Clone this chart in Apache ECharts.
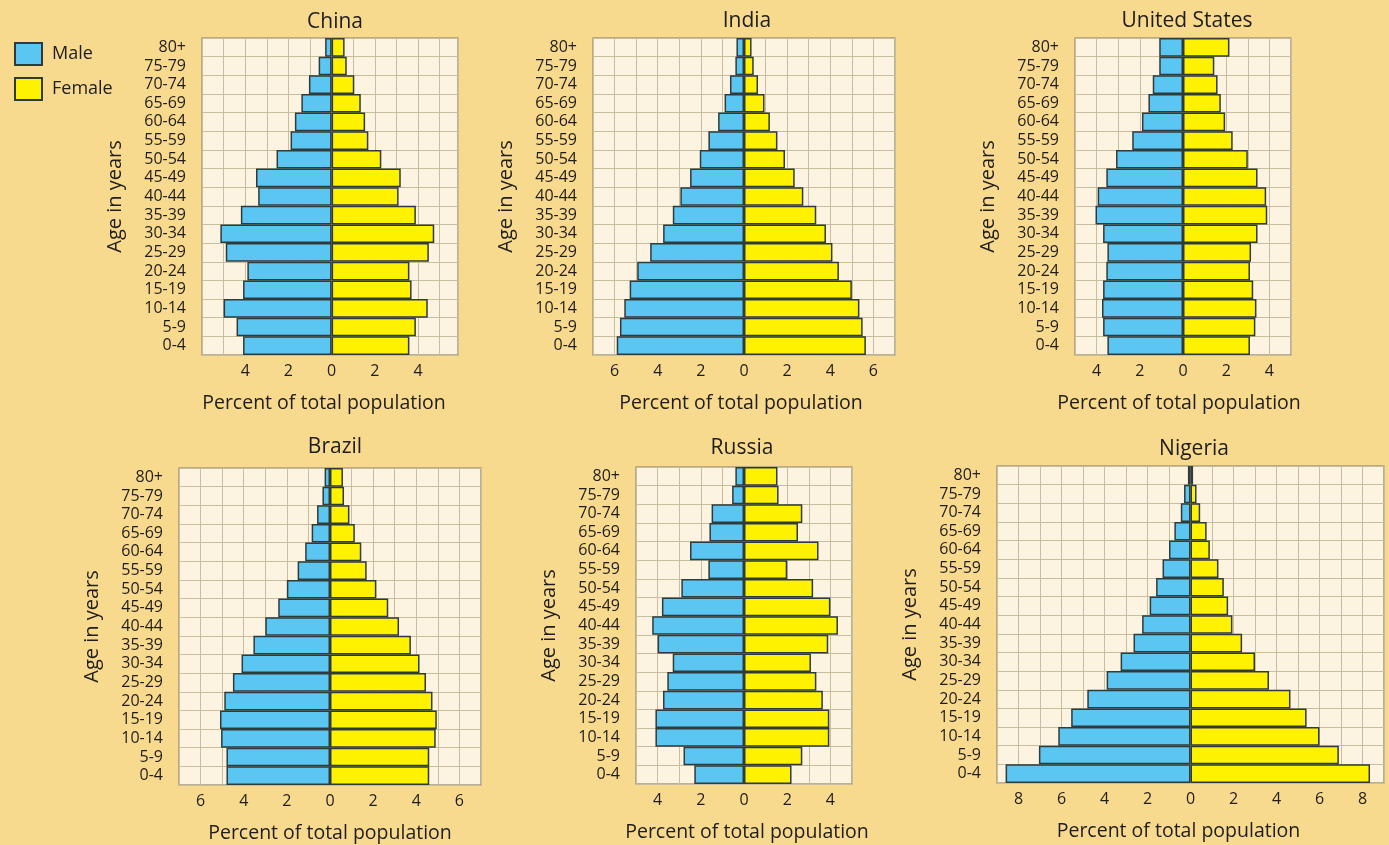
<!DOCTYPE html>
<html>
<head>
<meta charset="utf-8">
<script src="https://cdn.jsdelivr.net/npm/echarts@6/dist/echarts.min.js"></script>
<style>
html,body{margin:0;padding:0;background:#f8da8e;}
#chart{width:1389px;height:845px;}
</style>
</head>
<body>
<div id="chart"></div>
<script>
const ageGroups = ['0-4','5-9','10-14','15-19','20-24','25-29','30-34','35-39','40-44','45-49','50-54','55-59','60-64','65-69','70-74','75-79','80+'];

const chinaMale     = [4.1, 4.4, 5.0, 4.1, 3.9, 4.9, 5.15, 4.2, 3.4, 3.5, 2.55, 1.9, 1.7, 1.4, 1.05, 0.6, 0.3];
const chinaFemale   = [3.6, 3.9, 4.45, 3.7, 3.6, 4.5, 4.75, 3.9, 3.1, 3.2, 2.3, 1.7, 1.55, 1.35, 1.05, 0.7, 0.6];
const indiaMale     = [5.9, 5.75, 5.55, 5.3, 4.95, 4.35, 3.75, 3.3, 2.95, 2.5, 2.05, 1.65, 1.2, 0.9, 0.65, 0.4, 0.35];
const indiaFemale   = [5.65, 5.5, 5.35, 5.0, 4.4, 4.1, 3.8, 3.35, 2.75, 2.35, 1.9, 1.55, 1.2, 0.95, 0.65, 0.45, 0.35];
const usMale        = [3.5, 3.7, 3.75, 3.7, 3.55, 3.5, 3.7, 4.05, 3.95, 3.55, 3.1, 2.35, 1.9, 1.6, 1.4, 1.1, 1.1];
const usFemale      = [3.1, 3.35, 3.4, 3.25, 3.1, 3.15, 3.45, 3.9, 3.85, 3.45, 3.0, 2.3, 1.95, 1.75, 1.6, 1.45, 2.15];
const brazilMale    = [4.8, 4.8, 5.05, 5.1, 4.9, 4.5, 4.1, 3.55, 3.0, 2.4, 2.0, 1.5, 1.15, 0.85, 0.6, 0.35, 0.25];
const brazilFemale  = [4.6, 4.6, 4.9, 4.95, 4.75, 4.45, 4.15, 3.75, 3.2, 2.7, 2.15, 1.7, 1.45, 1.15, 0.9, 0.65, 0.6];
const russiaMale    = [2.3, 2.8, 4.1, 4.1, 3.75, 3.55, 3.3, 4.0, 4.25, 3.8, 2.9, 1.65, 2.5, 1.6, 1.5, 0.55, 0.4];
const russiaFemale  = [2.2, 2.7, 3.95, 3.95, 3.65, 3.35, 3.1, 3.9, 4.35, 4.0, 3.2, 2.0, 3.45, 2.5, 2.7, 1.6, 1.55];
const nigeriaMale   = [8.6, 7.05, 6.15, 5.55, 4.8, 3.9, 3.25, 2.65, 2.25, 1.9, 1.6, 1.3, 1.0, 0.75, 0.45, 0.3, 0.12];
const nigeriaFemale = [8.35, 6.9, 6.0, 5.4, 4.65, 3.65, 3.0, 2.4, 1.95, 1.75, 1.55, 1.3, 0.9, 0.75, 0.45, 0.28, 0.12];

const countries = ['China','India','United States','Brazil','Russia','Nigeria'];
const maleData   = [chinaMale, indiaMale, usMale, brazilMale, russiaMale, nigeriaMale];
const femaleData = [chinaFemale, indiaFemale, usFemale, brazilFemale, russiaFemale, nigeriaFemale];

// layout (pixels) and axis ranges
const layout = [
  {min:-6, max:5.85, left:202,  top:38,  width:256, height:317, tx:330,  ty:21,  nameShift:6},
  {min:-7, max:7,    left:593,  top:38,  width:302, height:317, tx:742,  ty:20,  nameShift:3},
  {min:-5, max:5,    left:1075, top:38,  width:216, height:317, tx:1182, ty:20,  nameShift:4},
  {min:-7, max:7,    left:179,  top:468, width:302, height:317, tx:330,  ty:446, nameShift:0},
  {min:-5, max:5,    left:636,  top:467, width:216, height:317, tx:737,  ty:447, nameShift:-3},
  {min:-9, max:9,    left:997,  top:466, width:387, height:317, tx:1189, ty:448, nameShift:12}
];

const FONT = '"Open Sans", "Noto Sans", sans-serif';
const TXT = '#1f1c1c';
const MALE = '#5cc6f3';
const FEMALE = '#fff200';
const EDGE = '#2f3b3a';

const grids = [], xAxes = [], yAxes = [], series = [], titles = [];
layout.forEach((L, i) => {
  grids.push({left:L.left, top:L.top, width:L.width, height:L.height, show:true,
    backgroundColor:'#fdf3e1', borderColor:'#a89a78', borderWidth:1.5});
  const sh = L.nameShift;
  xAxes.push({type:'value', gridIndex:i, min:L.min, max:L.max, interval:1,
    axisLine:{show:false}, axisTick:{show:false},
    splitLine:{show:true, lineStyle:{color:'#c9bd9f', width:1}},
    axisLabel:{showMinLabel:false, showMaxLabel:false, margin:8, fontSize:16, color:TXT, fontFamily:FONT,
      formatter: v => (Math.round(v) % 2 === 0 ? String(Math.abs(Math.round(v))) : '')},
    name:'Percent of total population', nameLocation:'middle', nameGap:38,
    nameTextStyle:{fontSize:19.5, color:TXT, fontFamily:FONT,
      padding: sh >= 0 ? [0, 2*sh, 0, 0] : [0, 0, 0, -2*sh]}});
  yAxes.push({type:'category', gridIndex:i, data:ageGroups,
    axisLine:{show:false, onZero:false}, axisTick:{show:false},
    splitLine:{show:true, interval:0, lineStyle:{color:'#c9bd9f', width:1}},
    axisLabel:{interval:0, margin:16, fontSize:16, color:TXT, fontFamily:FONT},
    name:'Age in years', nameLocation:'middle', nameGap:77, nameRotate:90,
    nameTextStyle:{fontSize:20, color:TXT, fontFamily:FONT, padding:[0,0,0,0]}});
  series.push({name:'Male', type:'bar', xAxisIndex:i, yAxisIndex:i,
    data:maleData[i].map(v => -v), barWidth:'100%', barGap:'-100%',
    itemStyle:{color:MALE, borderColor:EDGE, borderWidth:1.5}});
  series.push({name:'Female', type:'bar', xAxisIndex:i, yAxisIndex:i,
    data:femaleData[i], barWidth:'100%', barGap:'-100%',
    itemStyle:{color:FEMALE, borderColor:EDGE, borderWidth:1.5}});
  titles.push({text:countries[i], left:L.tx, top:L.ty - 14, textAlign:'center',
    textStyle:{fontSize:21, fontWeight:'normal', color:TXT, fontFamily:FONT}});
});

const chart = echarts.init(document.getElementById('chart'));
chart.setOption({
  backgroundColor:'#f8da8e',
  animation:false,
  title:titles,
  legend:{orient:'vertical', left:9, top:37, itemWidth:27, itemHeight:22, itemGap:11, icon:'rect',
    data:['Male','Female'], textStyle:{fontSize:18, color:TXT, fontFamily:FONT, padding:[0,0,0,5]}},
  grid:grids, xAxis:xAxes, yAxis:yAxes, series:series
});
</script>
</body>
</html>
